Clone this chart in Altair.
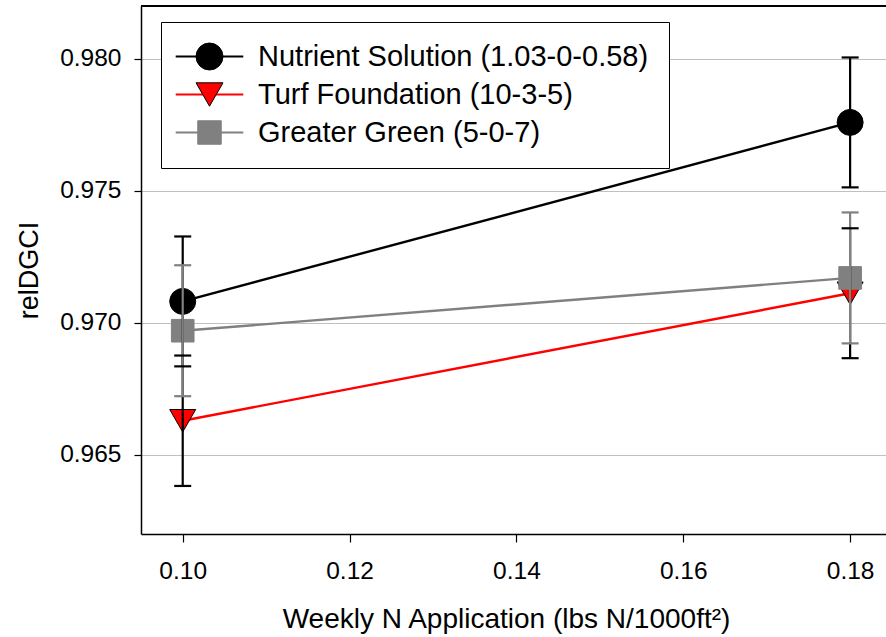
import altair as alt
import pandas as pd

# ---- data ----
series_names = ["Nutrient Solution (1.03-0-0.58)", "Turf Foundation (10-3-5)", "Greater Green (5-0-7)"]
n_rate = [0.10, 0.18]
nutrient_mean = [0.97081, 0.97759]
turf_mean = [0.96629, 0.97112]
greater_mean = [0.96970, 0.97170]
nutrient_err = [0.00246, 0.00246]
turf_err = [0.00247, 0.00246]
greater_err = [0.00248, 0.00248]

x_ticks = [0.10, 0.12, 0.14, 0.16, 0.18]
y_ticks = [0.965, 0.970, 0.975, 0.980]
x_domain = [0.095, 0.1843]
y_domain = [0.962, 0.982]

line_colors = ["#000000", "#ff0000", "#808080"]
fill_colors = ["#000000", "#ff0000", "#808080"]
stroke_colors = ["#000000", "#000000", "#808080"]
square_path = "M-0.87,-0.87L0.87,-0.87L0.87,0.87L-0.87,0.87Z"
shapes = ["circle", "triangle-down", square_path]

rows = []
for name, means, errs in zip(series_names,
                             [nutrient_mean, turf_mean, greater_mean],
                             [nutrient_err, turf_err, greater_err]):
    for xv, m, e in zip(n_rate, means, errs):
        rows.append({"series": name, "series2": name, "x": xv, "y": m,
                     "lo": m - e, "hi": m + e})
df = pd.DataFrame(rows)

FONT = "Liberation Sans"

xscale = alt.Scale(domain=x_domain, nice=False, zero=False)
yscale = alt.Scale(domain=y_domain, nice=False, zero=False)

x_axis = alt.Axis(values=x_ticks, format=".2f", grid=False,
                  domainColor="black", domainWidth=1.5,
                  tickColor="black", tickSize=8, tickWidth=1.2,
                  labelFont=FONT, labelFontSize=24.5, labelColor="black",
                  labelPadding=17,
                  title="Weekly N Application (lbs N/1000ft\u00b2)",
                  titleFont=FONT, titleFontSize=28, titleFontWeight="normal",
                  titleColor="black", titleX=365, titleY=93,
                  titleAlign="center", titleBaseline="alphabetic")
y_axis = alt.Axis(values=y_ticks, format=".3f", grid=True,
                  gridColor="#c0c0c0", gridWidth=1,
                  domainColor="black", domainWidth=1.5,
                  tickColor="black", tickSize=7, tickWidth=1.2,
                  labelFont=FONT, labelFontSize=24.5, labelColor="black",
                  labelPadding=13,
                  title="relDGCI", titleFont=FONT, titleFontSize=27,
                  titleFontWeight="normal", titleColor="black",
                  titleAngle=270, titleX=-104, titleY=264,
                  titleAlign="center", titleBaseline="alphabetic")

line_legend = alt.Legend(orient="none", legendX=20, legendY=16, title=None,
                         symbolType="M-2.6,0L2.6,0", symbolSize=676,
                         symbolStrokeWidth=2, labelFont=FONT, labelFontSize=29,
                         labelOpacity=0, labelLimit=600, padding=20, rowPadding=8,
                         symbolOffset=14, labelOffset=34, fillColor="white",
                         zindex=1)
point_legend = alt.Legend(orient="none", legendX=20, legendY=16, title=None,
                          symbolSize=729, symbolStrokeWidth=1,
                          labelFont=FONT, labelFontSize=29, labelColor="black",
                          labelLimit=600, padding=20, rowPadding=8,
                          symbolOffset=14, labelOffset=34, strokeColor="black",
                          zindex=2)

base = alt.Chart(df)

# top frame line drawn on the data scales
frame_top = alt.Chart(df).mark_rule(color="black", strokeWidth=1.5).encode(
    x=alt.X(datum=x_domain[0], scale=xscale, axis=x_axis),
    x2=alt.X2(datum=x_domain[1]),
    y=alt.Y(datum=y_domain[1], scale=yscale, axis=y_axis),
)

lines = base.mark_line(strokeWidth=2.4).encode(
    x=alt.X("x:Q", scale=xscale),
    y=alt.Y("y:Q", scale=yscale),
    color=alt.Color("series2:N", sort=series_names,
                    scale=alt.Scale(range=line_colors), legend=line_legend),
)

points = base.mark_point(filled=True, size=676, strokeWidth=1, opacity=1).encode(
    x=alt.X("x:Q", scale=xscale),
    y=alt.Y("y:Q", scale=yscale),
    fill=alt.Fill("series:N", scale=alt.Scale(domain=series_names, range=fill_colors),
                  legend=point_legend),
    shape=alt.Shape("series:N", scale=alt.Scale(domain=series_names, range=shapes),
                    legend=point_legend),
    stroke=alt.Stroke("series:N", scale=alt.Scale(domain=series_names, range=stroke_colors),
                      legend=point_legend),
)

eb_color = alt.condition(alt.datum.series == series_names[2],
                         alt.value("#808080"), alt.value("#000000"))

vbars = base.mark_rule(strokeWidth=2.2).encode(
    x=alt.X("x:Q", scale=xscale),
    y=alt.Y("lo:Q", scale=yscale),
    y2="hi:Q",
    stroke=eb_color,
)
cap_hi = base.mark_rule(strokeWidth=2.2, xOffset=-8.5, x2Offset=8.5).encode(
    x=alt.X("x:Q", scale=xscale),
    x2="x:Q",
    y=alt.Y("hi:Q", scale=yscale),
    stroke=eb_color,
)
cap_lo = base.mark_rule(strokeWidth=2.2, xOffset=-8.5, x2Offset=8.5).encode(
    x=alt.X("x:Q", scale=xscale),
    x2="x:Q",
    y=alt.Y("lo:Q", scale=yscale),
    stroke=eb_color,
)

chart = alt.layer(frame_top, lines, points, vbars, cap_hi, cap_lo).properties(
    width=745, height=528,
    autosize=alt.AutoSizeParams(type="none"),
    padding={"left": 141, "top": 6, "right": 0, "bottom": 103},
    background="white",
).configure_view(strokeWidth=0)

chart.save("out.html", embed_options={"renderer": "svg", "actions": False})
